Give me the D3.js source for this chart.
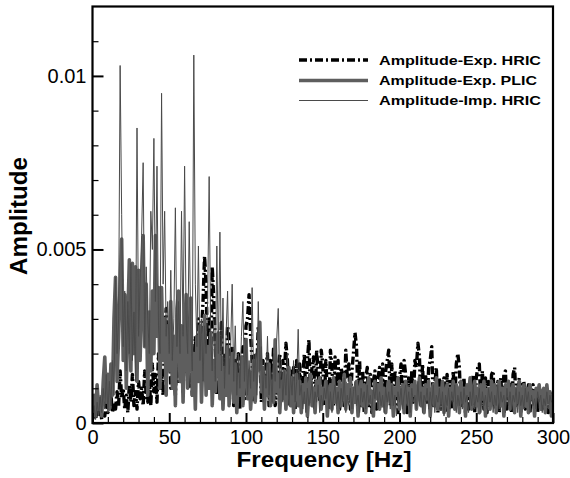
<!DOCTYPE html>
<html>
<head>
<meta charset="utf-8">
<script src="https://cdn.jsdelivr.net/npm/d3@7"></script>
<style>
  html, body { margin: 0; padding: 0; background: #fff; }
  text { font-family: "Liberation Sans", Arial, Helvetica, sans-serif; }
</style>
</head>
<body>
<script>
// ---------- DATA (amplitude values in units of 1e-4, one value per Hz, 0..300 Hz) ----------
const seriesNames = ["Amplitude-Exp. HRIC", "Amplitude-Exp. PLIC", "Amplitude-Imp. HRIC"];
const ampUnit = 1e-4;

const expHRIC = [
  1, 3, 1, 4, 2, 5, 1, 3, 2, 6,
  3, 4, 8, 3, 6, 4, 9, 5, 15, 7,
  10, 4, 8, 3, 11, 6, 14, 5, 9, 4,
  12, 7, 10, 5, 15, 8, 6, 12, 5, 17,
  9, 14, 6, 20, 10, 15, 8, 25, 33, 18,
  26, 10, 22, 14, 8, 20, 12, 25, 15, 9,
  22, 14, 28, 10, 20, 8, 16, 25, 12, 30,
  18, 26, 35, 48, 40, 20, 30, 15, 45, 36,
  22, 8, 25, 18, 29, 6, 20, 10, 28, 24,
  16, 22, 5, 18, 12, 20, 4, 15, 22, 7,
  28, 30, 37, 25, 18, 6, 20, 15, 28, 22,
  6, 18, 8, 16, 20, 5, 18, 12, 22, 5,
  9, 16, 20, 6, 18, 14, 23, 18, 5, 15,
  8, 16, 4, 18, 6, 17, 5, 13, 20, 6,
  18, 24, 7, 16, 19, 5, 21, 15, 6, 21,
  17, 5, 18, 9, 4, 21, 16, 5, 19, 8,
  18, 4, 16, 12, 5, 21, 13, 17, 4, 15,
  20, 26, 22, 6, 18, 5, 15, 3, 13, 16,
  5, 14, 3, 12, 15, 4, 13, 16, 5, 17,
  6, 15, 18, 21, 5, 17, 4, 15, 12, 3,
  13, 17, 5, 18, 14, 3, 13, 4, 15, 6,
  18, 16, 23, 19, 5, 17, 4, 14, 6, 16,
  18, 22, 5, 11, 16, 3, 13, 4, 11, 13,
  3, 14, 5, 12, 4, 15, 6, 17, 20, 16,
  5, 9, 13, 3, 11, 4, 12, 5, 14, 3,
  13, 16, 17, 5, 15, 4, 13, 3, 12, 6,
  14, 15, 4, 8, 12, 3, 13, 5, 14, 15,
  4, 8, 12, 3, 14, 16, 5, 9, 13, 3,
  11, 12, 4, 7, 11, 3, 10, 11, 4, 9,
  3, 10, 8, 4, 6, 9, 10, 3, 9, 5,
  8
];

const expPLIC = [
  3, 8, 2, 11, 4, 7, 2, 12, 19, 6,
  14, 4, 17, 8, 30, 42, 12, 25, 40, 53,
  18, 37, 10, 30, 47, 15, 46, 20, 45, 12,
  44, 18, 35, 54, 22, 40, 8, 32, 15, 38,
  20, 54, 25, 39, 10, 39, 18, 30, 8, 28,
  15, 35, 10, 25, 5, 33, 38, 12, 28, 6,
  25, 37, 10, 22, 36, 8, 20, 4, 25, 12,
  28, 6, 20, 31, 8, 22, 10, 26, 5, 18,
  9, 22, 26, 7, 19, 4, 16, 8, 22, 5,
  15, 20, 6, 17, 3, 14, 8, 19, 5, 16,
  24, 7, 15, 4, 12, 18, 6, 14, 20, 29,
  9, 16, 4, 13, 8, 17, 5, 12, 6, 24,
  9, 14, 3, 12, 7, 15, 4, 11, 16, 5,
  13, 3, 10, 14, 5, 12, 3, 11, 6, 13,
  2, 9, 14, 5, 10, 3, 12, 8, 13, 4,
  10, 7, 12, 2, 9, 11, 4, 13, 6, 10,
  3, 12, 5, 9, 14, 4, 11, 7, 13, 3,
  10, 6, 12, 2, 9, 12, 5, 11, 3, 10,
  13, 6, 9, 2, 12, 7, 11, 4, 13, 5,
  10, 3, 9, 12, 6, 11, 2, 10, 8, 13,
  4, 9, 11, 3, 12, 6, 10, 2, 11, 8,
  12, 4, 9, 13, 5, 10, 3, 11, 7, 12,
  2, 9, 11, 5, 13, 4, 10, 6, 12, 3,
  9, 11, 2, 10, 7, 12, 4, 11, 9, 3,
  12, 6, 10, 2, 11, 8, 13, 4, 9, 12,
  5, 10, 3, 11, 7, 12, 2, 9, 10, 4,
  12, 6, 11, 3, 9, 12, 5, 10, 2, 11,
  8, 12, 4, 9, 11, 3, 10, 6, 12, 2,
  9, 11, 5, 10, 3, 11, 7, 9, 2, 10,
  8, 11, 4, 9, 10, 3, 11, 6, 9, 2,
  6
];

const impHRIC = [
  2, 5, 1, 6, 2, 8, 3, 10, 4, 14,
  3, 12, 5, 18, 8, 42, 20, 30, 103, 60,
  22, 38, 15, 35, 20, 46, 18, 32, 12, 85,
  25, 40, 54, 75, 22, 45, 30, 20, 61, 50,
  82, 35, 74, 28, 20, 95, 40, 61, 25, 35,
  20, 44, 18, 30, 62, 22, 35, 20, 61, 25,
  74, 30, 20, 58, 28, 15, 106, 40, 22, 51,
  18, 30, 12, 28, 20, 35, 71, 25, 15, 30,
  12, 51, 20, 55, 15, 36, 10, 25, 38, 14,
  22, 40, 12, 28, 8, 20, 10, 25, 35, 12,
  24, 8, 18, 10, 39, 12, 20, 8, 35, 15,
  22, 6, 18, 10, 25, 8, 16, 6, 20, 12,
  24, 33, 10, 18, 6, 15, 8, 20, 5, 14,
  8, 18, 6, 12, 27, 8, 11, 4, 9, 3,
  10, 5, 8, 12, 4, 9, 6, 11, 3, 8,
  5, 10, 7, 12, 4, 9, 3, 8, 11, 5,
  9, 4, 10, 6, 13, 3, 8, 5, 10, 4,
  9, 12, 5, 8, 3, 10, 6, 9, 4, 11,
  5, 8, 3, 10, 7, 12, 4, 9, 5, 8,
  3, 10, 6, 9, 4, 11, 5, 8, 2, 9,
  6, 10, 4, 8, 11, 5, 9, 3, 10, 6,
  8, 4, 12, 5, 9, 3, 8, 6, 10, 4,
  9, 5, 11, 3, 8, 6, 10, 4, 9, 2,
  8, 5, 10, 4, 9, 6, 11, 3, 8, 5,
  9, 4, 10, 6, 8, 3, 9, 5, 11, 4,
  8, 6, 10, 3, 9, 5, 8, 4, 10, 6,
  9, 3, 8, 5, 11, 4, 9, 6, 8, 3,
  10, 5, 9, 4, 8, 6, 10, 3, 9, 5,
  8, 4, 10, 6, 9, 3, 8, 5, 7, 4,
  9, 6, 8, 3, 7, 5, 9, 4, 8, 6,
  7
];

const freqStart = 0, freqStep = 1;  // Hz
const xTicks = [0, 50, 100, 150, 200, 250, 300];
const xTickLabels = ["0", "50", "100", "150", "200", "250", "300"];
const xMinorTicks = [10, 20, 30, 40, 60, 70, 80, 90, 110, 120, 130, 140, 160, 170, 180, 190, 210, 220, 230, 240, 260, 270, 280, 290];
const yTicks = [0, 0.005, 0.01];
const yTickLabels = ["0", "0.005", "0.01"];
const yMinorTicks = [0.001, 0.002, 0.003, 0.004, 0.006, 0.007, 0.008, 0.009, 0.011];
const xTitle = "Frequency [Hz]";
const yTitle = "Amplitude";

// ---------- LAYOUT ----------
const W = 570, H = 478;
const L = 92.5, R = 553, T = 6.5, B = 423;

const svg = d3.select("body").append("svg").attr("width", W).attr("height", H);

const x = d3.scaleLinear().domain([0, 300]).range([L, R]);
const y = d3.scaleLinear().domain([0, 0.012]).range([B, T]);

svg.append("defs").append("clipPath").attr("id", "clip")
  .append("rect").attr("x", L).attr("y", T).attr("width", R - L).attr("height", B - T);

function toPoints(arr) {
  return arr.map((v, i) => ({ f: freqStart + i * freqStep, a: v * ampUnit }));
}

const line = d3.line().x(d => x(d.f)).y(d => y(d.a));
const plot = svg.append("g").attr("clip-path", "url(#clip)");

const styles = [
  { data: expHRIC, stroke: "#000000", width: 3.4, dash: "8,3,2,3" },
  { data: expPLIC, stroke: "#5e5e5e", width: 3.6, dash: null },
  { data: impHRIC, stroke: "#4a4a4a", width: 1, dash: null }
];

styles.forEach(s => {
  const p = plot.append("path")
    .datum(toPoints(s.data))
    .attr("fill", "none")
    .attr("stroke", s.stroke)
    .attr("stroke-width", s.width)
    .attr("stroke-linejoin", "round")
    .attr("d", line);
  if (s.dash) p.attr("stroke-dasharray", s.dash);
});

// ---------- AXES ----------
const fontTick = 20;
const xAxis = d3.axisBottom(x).tickValues(xTicks)
  .tickFormat((d, i) => xTickLabels[i]).tickSizeInner(-10).tickSizeOuter(0).tickPadding(7);
const gx = svg.append("g").attr("transform", `translate(0,${B})`).call(xAxis);
gx.select(".domain").remove();
gx.selectAll(".tick line").attr("stroke", "#000").attr("stroke-width", 2);
gx.selectAll(".tick text").attr("font-size", fontTick).attr("fill", "#000")
  .attr("font-family", "Liberation Sans, Arial, sans-serif");

const xAxisMinor = d3.axisBottom(x).tickValues(xMinorTicks).tickFormat("").tickSizeInner(-6).tickSizeOuter(0);
const gxm = svg.append("g").attr("transform", `translate(0,${B})`).call(xAxisMinor);
gxm.select(".domain").remove();
gxm.selectAll(".tick line").attr("stroke", "#000").attr("stroke-width", 1.2);

const yAxis = d3.axisLeft(y).tickValues(yTicks)
  .tickFormat((d, i) => yTickLabels[i]).tickSizeInner(-11).tickSizeOuter(0).tickPadding(6);
const gy = svg.append("g").attr("transform", `translate(${L},0)`).call(yAxis);
gy.select(".domain").remove();
gy.selectAll(".tick line").attr("stroke", "#000").attr("stroke-width", 2);
gy.selectAll(".tick text").attr("font-size", fontTick).attr("fill", "#000")
  .attr("font-family", "Liberation Sans, Arial, sans-serif");

const yAxisMinor = d3.axisLeft(y).tickValues(yMinorTicks).tickFormat("").tickSizeInner(-6).tickSizeOuter(0);
const gym = svg.append("g").attr("transform", `translate(${L},0)`).call(yAxisMinor);
gym.select(".domain").remove();
gym.selectAll(".tick line").attr("stroke", "#000").attr("stroke-width", 1.2);

// frame
svg.append("rect").attr("x", L).attr("y", T).attr("width", R - L).attr("height", B - T)
  .attr("fill", "none").attr("stroke", "#000").attr("stroke-width", 2.2);

// titles
svg.append("text").attr("x", 324).attr("y", 467).attr("text-anchor", "middle")
  .attr("font-size", 22).attr("font-weight", "bold").attr("fill", "#000")
  .attr("textLength", 175).attr("lengthAdjust", "spacingAndGlyphs")
  .text(xTitle);

svg.append("text").attr("transform", "translate(27,216) rotate(-90)").attr("text-anchor", "middle")
  .attr("font-size", 23).attr("font-weight", "bold").attr("fill", "#000")
  .attr("textLength", 118).attr("lengthAdjust", "spacingAndGlyphs")
  .text(yTitle);

// ---------- LEGEND ----------
const legendY = [60, 80.5, 100.5];
const legendTextLen = [162, 158, 162];
const legend = svg.append("g");
styles.forEach((s, i) => {
  const ln = legend.append("line").attr("x1", 299).attr("x2", 368)
    .attr("y1", legendY[i]).attr("y2", legendY[i])
    .attr("stroke", s.stroke).attr("stroke-width", s.width);
  if (s.dash) ln.attr("stroke-dasharray", s.dash);
  legend.append("text").attr("x", 379).attr("y", legendY[i] + 4.5)
    .attr("font-size", 13).attr("font-weight", "bold").attr("fill", "#000")
    .attr("textLength", legendTextLen[i]).attr("lengthAdjust", "spacingAndGlyphs")
    .text(seriesNames[i]);
});
</script>
</body>
</html>
